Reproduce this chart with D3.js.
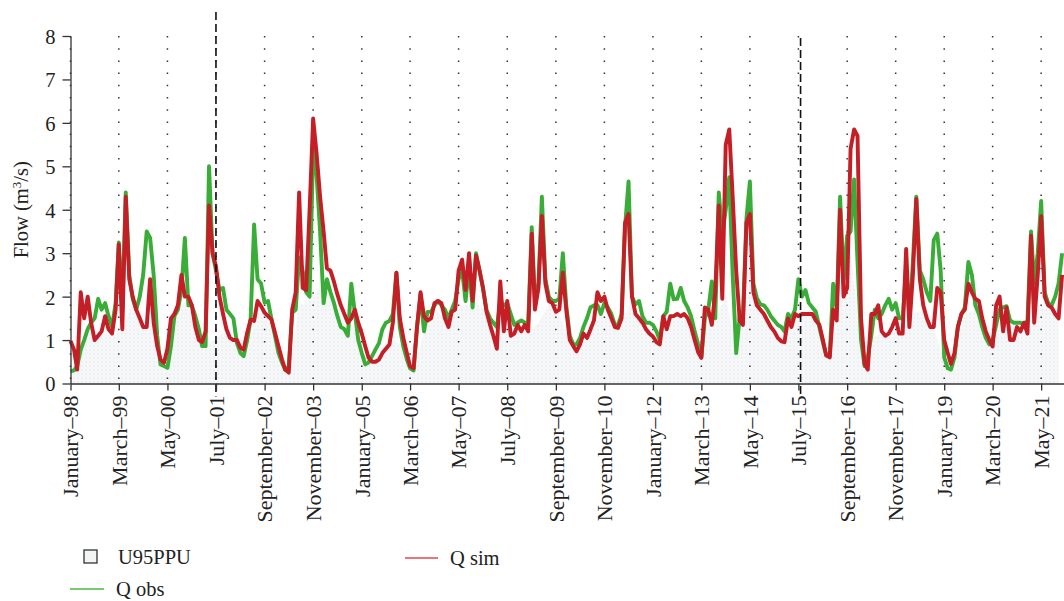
<!DOCTYPE html>
<html>
<head>
<meta charset="utf-8">
<script src="https://cdn.jsdelivr.net/npm/d3@7"></script>
<style>
  body { margin: 0; background: #fff; }
  text { font-family: "Liberation Serif", "Times New Roman", serif; fill: #222; }
</style>
</head>
<body>
<div id="scene"></div>
<script>
var ctx = {
  w: 1064,
  h: 601,
  left: 70.5,
  top: 36,
  bottom: 383.5,
  monthPx: 3.467,
  fontSize: 20.5,
  xFontSize: 22,
};

// monthly series, first value = January 1998
var startYear = 1998;

var qObs = [
  0.28,0.3,0.4,0.78,1.0,1.25,1.4,1.5,1.95,1.7, 1.85,1.55,1.3,1.85,3.25,1.7,4.4,2.5,1.95,1.7,
  2.0,2.5,3.5,3.35,2.5,1.1,0.44,0.4,0.36,0.86, 1.55,1.7,2.15,3.35,1.8,1.8,1.55,1.25,0.86,0.86,
  5.0,3.0,2.6,2.15,2.2,1.7,1.6,1.5,0.93,0.7, 0.63,1.0,1.47,3.66,2.4,2.3,1.86,1.9,1.47,1.1,
  0.7,0.48,0.32,0.4,1.63,1.7,2.9,2.6,2.1,2.0, 5.4,4.8,3.5,1.85,2.4,2.1,1.86,1.55,1.3,1.25,
  1.1,2.3,1.63,1.0,0.7,0.44,0.48,0.63,0.78,0.93, 1.25,1.4,1.44,1.6,2.55,1.3,0.85,0.55,0.35,0.3,
  1.3,2.05,1.2,1.65,1.65,1.8,1.9,1.8,1.7,1.5, 1.7,1.9,2.4,2.6,1.9,2.7,1.75,3.0,2.6,2.2,
  1.7,1.5,1.4,1.3,1.9,1.8,1.85,1.6,1.35,1.4, 1.45,1.4,1.4,3.6,1.9,2.3,4.3,2.4,2.0,1.9,
  1.9,1.95,3.0,1.8,1.1,0.9,0.9,1.05,1.3,1.5, 1.75,1.8,1.8,1.6,1.85,1.75,1.6,1.35,1.35,1.6,
  3.6,4.65,2.0,1.82,1.9,1.55,1.4,1.4,1.35,1.2, 1.0,1.55,1.65,2.3,1.94,1.95,2.2,1.9,1.75,1.55,
  1.2,0.9,0.6,1.5,1.7,2.35,1.5,4.4,3.45,4.0, 4.75,2.5,0.7,1.55,1.5,3.8,4.65,2.3,1.97,1.82,
  1.8,1.7,1.55,1.45,1.35,1.3,1.2,1.6,1.5,1.7, 2.4,2.0,2.15,1.85,1.75,1.65,1.3,0.95,0.65,0.63,
  2.3,1.7,4.3,2.4,3.4,3.5,4.7,2.8,1.0,0.4, 0.6,1.1,1.7,1.5,1.6,1.8,1.95,1.7,1.85,1.5,
  1.5,2.7,1.5,2.8,4.3,2.6,2.4,2.1,1.9,3.3, 3.45,2.6,0.6,0.35,0.32,0.6,1.3,1.6,1.75,2.8,
  2.5,1.8,1.6,1.3,1.05,0.9,1.0,1.35,1.7,1.75, 1.78,1.45,1.4,1.4,1.4,1.35,1.45,3.5,2.3,3.0,
  4.2,2.1,1.85,1.8,2.0,2.3,3.0
];

var qSim = [
  0.98,0.78,0.32,2.1,1.5,2.0,1.4,1.0,1.1,1.2, 1.55,1.25,1.15,1.7,3.2,1.25,4.3,2.4,2.0,1.7,
  1.5,1.3,1.3,2.4,1.4,0.86,0.55,0.48,0.8,1.5, 1.6,1.8,2.5,2.0,2.0,1.8,1.3,1.0,0.95,1.2,
  4.1,3.0,2.7,2.0,1.6,1.25,1.05,1.0,1.0,0.82, 0.78,1.17,1.47,1.44,1.9,1.78,1.63,1.55,1.47,1.17,
  0.86,0.55,0.32,0.25,1.7,2.1,4.4,2.2,2.15,4.0, 6.1,5.3,4.3,3.5,2.65,2.6,2.35,2.05,1.8,1.6,
  1.4,1.5,1.7,1.4,1.15,0.85,0.6,0.5,0.5,0.55, 0.7,0.8,0.9,1.4,2.55,1.5,1.05,0.7,0.4,0.35,
  1.3,2.1,1.55,1.45,1.5,1.85,1.9,1.85,1.5,1.3, 1.65,1.7,2.6,2.85,2.15,3.0,1.9,2.95,2.6,2.2,
  1.65,1.35,1.1,0.8,2.35,1.2,1.9,1.1,1.15,1.35, 1.2,1.35,1.2,3.45,1.7,2.2,3.86,2.3,1.9,1.85,
  1.65,1.7,2.55,1.7,1.0,0.86,0.74,0.9,1.15,1.05, 1.24,1.45,2.1,1.9,2.0,1.7,1.5,1.3,1.28,1.5,
  3.7,3.9,2.0,1.6,1.5,1.4,1.25,1.15,1.08,0.95, 0.9,1.55,1.25,1.55,1.55,1.6,1.55,1.6,1.5,1.3,
  1.0,0.72,0.59,1.75,1.7,1.35,2.1,4.1,1.95,5.5, 5.85,4.3,2.6,1.45,1.35,3.7,3.9,2.1,1.8,1.7,
  1.6,1.45,1.3,1.2,1.05,0.97,0.95,1.5,1.3,1.6, 1.55,1.6,1.6,1.6,1.6,1.45,1.35,1.0,0.65,0.6,
  1.7,1.45,4.0,2.0,2.2,5.4,5.85,5.7,1.5,0.45, 0.32,1.6,1.6,1.8,1.2,1.1,1.15,1.3,1.5,1.15,
  1.15,3.1,1.3,2.5,4.25,2.4,1.8,1.5,1.3,1.3, 2.2,2.1,1.0,0.7,0.45,0.7,1.3,1.6,1.7,2.3,
  2.1,1.95,1.9,1.5,1.2,1.0,0.85,1.8,2.0,1.2, 1.75,1.0,1.0,1.3,1.2,1.4,1.15,3.4,1.4,2.5,
  3.85,2.0,1.8,1.75,1.6,1.5,2.5
];

// upper limit of the 95PPU band, one value every 3 months from January 1998
var u95Step = 3;
var u95Upper = [
  0.3,0.75,1.3,1.15,1.1,1.2,1.9,1.25,1.35,0.45, 1.5,1.9,1.25,0.85,1.05,1.2,0.9,1.0,1.8,1.5,
  0.7,0.25,1.8,1.9,2.2,2.0,1.3,1.4,0.7,0.5, 0.7,1.0,0.85,0.3,1.2,1.7,1.5,1.65,1.8,1.9,
  1.6,0.8,1.8,1.3,1.15,1.4,1.8,1.6,1.0,0.85, 1.15,1.6,1.45,1.4,1.9,1.3,1.0,1.4,1.5,1.5,
  0.95,1.3,1.5,2.0,0.7,3.5,1.7,1.4,1.0,1.4, 1.5,1.55,1.25,0.55,2.0,3.0,0.9,1.05,1.15,1.25,
  1.1,1.6,1.7,1.25,0.55,0.55,1.6,1.7,1.0,1.3, 1.7,1.25,1.1,1.8,1.75,1.45
];

var tickLabels = [
  "January–98","March–99","May–00","July–01","September–02","November–03","January–05",
  "March–06","May–07","July–08","September–09","November–10","January–12","March–13",
  "May–14","July–15","September–16","November–17","January–19","March–20","May–21"
];
var tickStepMonths = 14;
var yTicks = [0,1,2,3,4,5,6,7,8];

// calibration / validation limits
var splitDates = [new Date(2001, 6, 1), new Date(2015, 6, 20)];

var createScene = function() {
  var svg = d3.select("#scene").append("svg")
    .attr("width", ctx.w)
    .attr("height", ctx.h);

  var rows = qObs.map(function(v, i) {
    return { date: new Date(startYear, i, 1), obs: v, sim: qSim[i] };
  });
  var band = u95Upper.map(function(v, i) {
    return { date: new Date(startYear, i * u95Step, 1), up: v };
  });
  var tickDates = tickLabels.map(function(d, i) {
    return new Date(startYear, i * tickStepMonths, 1);
  });

  var nMonths = qObs.length;
  var x = d3.scaleTime()
    .domain([new Date(startYear, 0, 1), new Date(startYear, nMonths, 1)])
    .range([ctx.left, ctx.left + nMonths * ctx.monthPx]);
  var y = d3.scaleLinear().domain([0, 8]).range([ctx.bottom, ctx.top]);

  // dotted pattern for the band
  var pat = svg.append("defs").append("pattern")
    .attr("id", "dots")
    .attr("width", 4).attr("height", 4)
    .attr("patternUnits", "userSpaceOnUse");
  pat.append("rect").attr("width", 4).attr("height", 4).attr("fill", "#f6f7f9");
  pat.append("circle").attr("cx", 2).attr("cy", 2).attr("r", 0.7).attr("fill", "#e4e6ea");

  svg.append("path")
    .datum(band)
    .attr("fill", "url(#dots)")
    .attr("d", d3.area()
      .x(function(d) { return x(d.date); })
      .y0(y(0))
      .y1(function(d) { return y(d.up); }));

  // dotted grid at each tick
  svg.append("g").selectAll("line")
    .data(tickDates)
    .enter()
    .append("line")
    .attr("x1", function(d) { return x(d); })
    .attr("x2", function(d) { return x(d); })
    .attr("y1", ctx.top)
    .attr("y2", ctx.bottom)
    .style("stroke", "#333")
    .style("stroke-width", 1.5)
    .style("stroke-dasharray", "1.5,10.7");

  // lines
  var lineObs = d3.line().x(function(d) { return x(d.date); }).y(function(d) { return y(d.obs); });
  var lineSim = d3.line().x(function(d) { return x(d.date); }).y(function(d) { return y(d.sim); });

  svg.append("path")
    .datum(rows)
    .attr("d", lineObs)
    .style("fill", "none")
    .style("stroke", "#3aac38")
    .style("stroke-width", 3.9)
    .style("stroke-linejoin", "round");

  svg.append("path")
    .datum(rows)
    .attr("d", lineSim)
    .style("fill", "none")
    .style("stroke", "#c41e26")
    .style("stroke-width", 3.9)
    .style("stroke-linejoin", "round");

  // dashed period limits
  var dashTop = [12, 38];
  svg.append("g").selectAll("line")
    .data(splitDates)
    .enter()
    .append("line")
    .attr("x1", function(d) { return x(d); })
    .attr("x2", function(d) { return x(d); })
    .attr("y1", function(d, i) { return dashTop[i]; })
    .attr("y2", ctx.bottom + 13)
    .style("stroke", "#111")
    .style("stroke-width", 1.6)
    .style("stroke-dasharray", "8,4");

  // axes
  var yAxis = svg.append("g")
    .attr("transform", "translate(" + ctx.left + ",0)")
    .call(d3.axisLeft(y).tickValues(yTicks).tickSize(8).tickSizeOuter(0).tickPadding(7));
  yAxis.selectAll("text").style("font-size", ctx.fontSize + "px").attr("dy", "0.36em");

  var xAxis = svg.append("g")
    .attr("transform", "translate(0," + ctx.bottom + ")")
    .call(d3.axisBottom(x).tickValues(tickDates)
      .tickFormat(function(d, i) { return tickLabels[i]; })
      .tickSize(7).tickSizeOuter(0));
  xAxis.selectAll("text")
    .style("font-size", ctx.xFontSize + "px")
    .attr("text-anchor", "end")
    .attr("transform", "rotate(-90)")
    .attr("x", -12)
    .attr("y", 0)
    .attr("dy", "0.33em");

  svg.selectAll(".domain").style("stroke", "#333").style("stroke-width", 1.3);
  svg.selectAll(".tick line").style("stroke", "#333").style("stroke-width", 1.3);

  svg.append("text")
    .attr("transform", "translate(28," + ((ctx.top + ctx.bottom) / 2) + ") rotate(-90)")
    .attr("text-anchor", "middle")
    .style("font-size", ctx.fontSize + "px")
    .html('Flow (m<tspan baseline-shift="super" font-size="13px">3</tspan>/s)');

  // legend
  var lg = svg.append("g");
  lg.append("rect")
    .attr("x", 84).attr("y", 550).attr("width", 13).attr("height", 13)
    .style("fill", "#f3f4f6").style("stroke", "#333").style("stroke-width", 1.3);
  lg.append("text").attr("x", 118).attr("y", 564).style("font-size", ctx.fontSize + "px").text("U95PPU");

  lg.append("line").attr("x1", 70).attr("x2", 104).attr("y1", 589).attr("y2", 589)
    .style("stroke", "#4cbb3c").style("stroke-width", 1.5);
  lg.append("text").attr("x", 116).attr("y", 596).style("font-size", ctx.fontSize + "px").text("Q obs");

  lg.append("line").attr("x1", 405).attr("x2", 438).attr("y1", 558).attr("y2", 558)
    .style("stroke", "#e2464e").style("stroke-width", 1.5);
  lg.append("text").attr("x", 450).attr("y", 565).style("font-size", ctx.fontSize + "px").text("Q sim");
};

createScene();
</script>
</body>
</html>
